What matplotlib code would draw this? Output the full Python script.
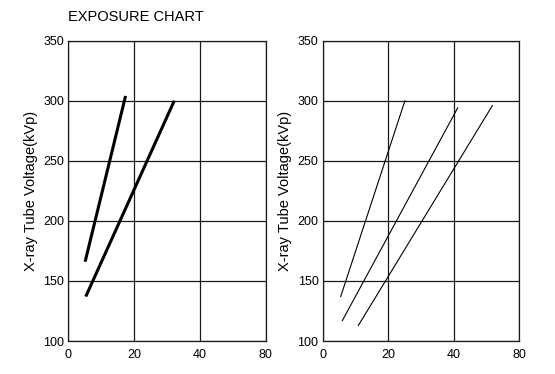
import matplotlib.pyplot as plt
import numpy as np

plt.rcParams['font.family'] = ['Liberation Sans', 'DejaVu Sans']

# x axis is drawn at even spacing: positions 0,20,40,60 carry labels 0,20,40,80
x_ticks = [0, 20, 40, 60]
x_labels = ["0", "20", "40", "80"]
y_ticks = [100, 150, 200, 250, 300, 350]

# left panel (thick lines)
left_x1 = [5.1, 17.4]
left_y1 = [166, 304]
left_x2 = [5.3, 32.2]
left_y2 = [137, 300]

# right panel (thin lines)
right_xa = [5.5, 25.1]
right_ya = [137, 300]
right_xb = [6.0, 41.2]
right_yb = [117, 294]
right_xc = [10.9, 51.8]
right_yc = [113, 296]

fig = plt.figure(figsize=(5.55, 3.74), dpi=100)
ax1 = fig.add_axes([0.1231, 0.0882, 0.3557, 0.803])
ax2 = fig.add_axes([0.5814, 0.0882, 0.3542, 0.803])

ax1.plot(left_x1, left_y1, color="black", lw=2.2, solid_capstyle="butt")
ax1.plot(left_x2, left_y2, color="black", lw=2.2, solid_capstyle="butt")

ax2.plot(right_xa, right_ya, color="black", lw=0.8)
ax2.plot(right_xb, right_yb, color="black", lw=0.8)
ax2.plot(right_xc, right_yc, color="black", lw=0.8)

for ax in (ax1, ax2):
    ax.set_xlim(0, 60)
    ax.set_ylim(100, 350)
    ax.set_xticks(x_ticks)
    ax.set_xticklabels(x_labels)
    ax.set_yticks(y_ticks)
    ax.tick_params(length=0, labelsize=9, pad=3)
    ax.tick_params(axis="x", pad=6)
    ax.grid(True, color="#1a1a1a", lw=0.9)
    ax.set_axisbelow(True)
    for s in ax.spines.values():
        s.set_color("#1a1a1a")
        s.set_linewidth(0.9)
    ax.set_ylabel("X-ray Tube Voltage(kVp)", fontsize=10.5, labelpad=4)

fig.text(0.1225, 0.955, "EXPOSURE CHART", fontsize=10.5, ha="left", va="center")

fig.savefig("out.png", dpi=100)
